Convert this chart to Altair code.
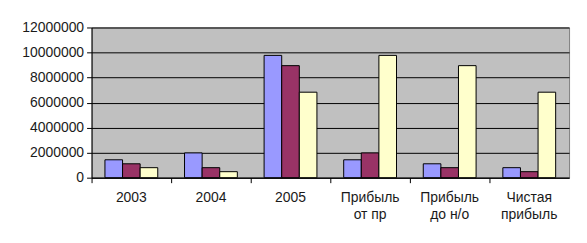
import altair as alt
import pandas as pd

categories = ["2003", "2004", "2005", "Прибыль от пр", "Прибыль до н/о", "Чистая прибыль"]
series_names = ["Ряд1", "Ряд2", "Ряд3"]
series1 = [1430000, 1980000, 9770000, 1430000, 1110000, 800000]
series2 = [1110000, 800000, 8950000, 1980000, 800000, 480000]
series3 = [800000, 480000, 6830000, 9770000, 8950000, 6830000]
colors = ["#9999FF", "#993366", "#FFFFCC"]
y_ticks = [0, 2000000, 4000000, 6000000, 8000000, 10000000, 12000000]

rows = []
for name, vals in zip(series_names, [series1, series2, series3]):
    for c, v in zip(categories, vals):
        rows.append({"cat": c, "series": name, "amount": v})
df = pd.DataFrame(rows)

FONT = "Liberation Sans"
TEXT = "#1a1a1a"

label_expr = ("indexof(datum.value, ' ') > 0 ? "
              "[substring(datum.value, 0, indexof(datum.value, ' ')), "
              "substring(datum.value, indexof(datum.value, ' ') + 1)] : datum.value")

chart = alt.Chart(df).mark_bar(stroke="black", strokeWidth=1).encode(
    x=alt.X("cat:N", sort=categories, title=None,
            scale=alt.Scale(paddingInner=0, paddingOuter=0),
            axis=alt.Axis(labelAngle=0, bandPosition=0, tickSize=5, tickColor="black",
                          domainColor="black", labelColor=TEXT, labelFont=FONT,
                          labelFontSize=14, labelLineHeight=17, labelPadding=8,
                          labelExpr=label_expr, grid=False)),
    xOffset=alt.XOffset("series:N", sort=series_names,
                        scale=alt.Scale(paddingInner=0, paddingOuter=0.76)),
    y=alt.Y("amount:Q", title=None,
            scale=alt.Scale(domain=[0, 12000000], nice=False),
            axis=alt.Axis(values=y_ticks, format="d", tickSize=5, tickColor="black",
                          domainColor="black", gridColor="black", gridWidth=1,
                          labelColor=TEXT, labelFont=FONT, labelFontSize=14,
                          labelPadding=3)),
    color=alt.Color("series:N", sort=series_names,
                    scale=alt.Scale(domain=series_names, range=colors), legend=None),
).properties(
    width=480, height=151,
    background="white",
    autosize=alt.AutoSizeParams(type="none"),
    padding={"left": 84, "top": 19, "right": 10, "bottom": 50},
).configure_view(
    fill="#C0C0C0", stroke="#808080", strokeWidth=1
)

chart.save("out.html", embed_options={"renderer": "svg", "actions": False})
